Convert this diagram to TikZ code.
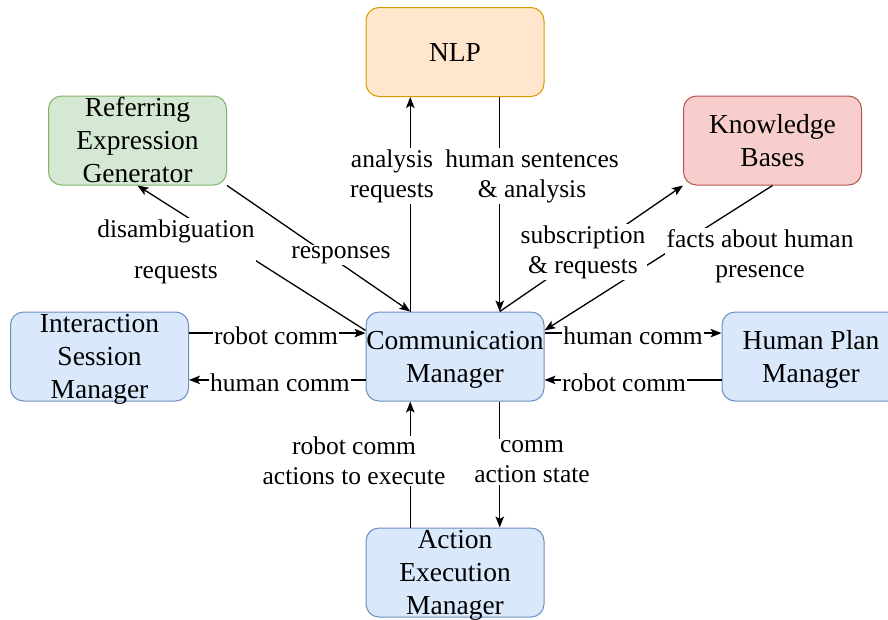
\documentclass[tikz,border=0pt]{standalone}
\usepackage{fontspec}
\setmainfont{Liberation Serif}
\usetikzlibrary{arrows.meta,calc}
\definecolor{nlpfill}{HTML}{FFE6CC}\definecolor{nlpline}{HTML}{D79B00}
\definecolor{regfill}{HTML}{D5E8D4}\definecolor{regline}{HTML}{82B366}
\definecolor{kbfill}{HTML}{F8CECC}\definecolor{kbline}{HTML}{B85450}
\definecolor{bluefill}{HTML}{DAE8FC}\definecolor{blueline}{HTML}{6C8EBF}
\newcommand{\mltext}[1]{\smash{\raisebox{-9pt}{\begin{tabular}{@{}c@{}}#1\end{tabular}}}}
\begin{document}
\begin{tikzpicture}[x=1pt,y=-1pt,
  box/.style={rounded corners=13pt, minimum width=178pt, minimum height=89pt, inner sep=0pt,
    line width=1pt, font=\fontsize{27.5}{33}\selectfont},
  nlpbox/.style={box, fill=nlpfill, draw=nlpline},
  regbox/.style={box, fill=regfill, draw=regline},
  kbbox/.style={box, fill=kbfill, draw=kbline},
  bluebox/.style={box, fill=bluefill, draw=blueline},
  conn/.style={line width=1.3pt, -{Stealth[length=11pt,width=8.5pt,inset=2.5pt]}},
  lbl/.style={fill=white, inner sep=1.5pt, align=center, font=\fontsize{25.5}{30}\selectfont}]
\clip (0,0) rectangle (888,619);
\fill[white] (0,0) rectangle (888,619);
% boxes
\node[nlpbox] (nlp) at (455,52) {\mltext{NLP}};
\node[regbox] (reg) at (137.5,140.5) {\mltext{Referring\\Expression\\Generator}};
\node[kbbox] (kb) at (772.5,140.5) {\mltext{Knowledge\\Bases}};
\node[bluebox] (ism) at (99.5,356.5) {\mltext{Interaction\\Session\\Manager}};
\node[bluebox] (cm) at (455,356.5) {\mltext{Communication\\Manager}};
\node[bluebox] (hpm) at (811,356.5) {\mltext{Human Plan\\Manager}};
\node[bluebox] (aem) at (455,572.5) {\mltext{Action\\Execution\\Manager}};
% connectors
\draw[conn] ($(cm.north west)!.25!(cm.north east)$) -- ($(nlp.south west)!.25!(nlp.south east)$);
\draw[conn] ($(nlp.south west)!.75!(nlp.south east)$) -- ($(cm.north west)!.75!(cm.north east)$);
\draw[conn] ($(cm.north west)!.21!(cm.south west)$) -- (reg.south);
\draw[conn] (reg.south east) -- ($(cm.north west)!.25!(cm.north east)$);
\draw[conn] ($(cm.north west)!.75!(cm.north east)$) -- (kb.south west);
\draw[conn] (kb.south) -- ($(cm.north east)!.21!(cm.south east)$);
\draw[conn] ($(ism.north east)!.24!(ism.south east)$) -- ($(cm.north west)!.24!(cm.south west)$);
\draw[conn] ($(cm.north west)!.76!(cm.south west)$) -- ($(ism.north east)!.76!(ism.south east)$);
\draw[conn] ($(cm.north east)!.24!(cm.south east)$) -- ($(hpm.north west)!.24!(hpm.south west)$);
\draw[conn] ($(hpm.north west)!.76!(hpm.south west)$) -- ($(cm.north east)!.76!(cm.south east)$);
\draw[conn] ($(aem.north west)!.25!(aem.north east)$) -- ($(cm.south west)!.25!(cm.south east)$);
\draw[conn] ($(cm.south west)!.75!(cm.south east)$) -- ($(aem.north west)!.75!(aem.north east)$);
% labels
\node[lbl] (l1) at (392,176) {analysis\\requests};
\node[lbl] (l2) at (532,176) {human sentences\\\& analysis};
\node[lbl] (l3) at (176,252) {disambiguation\\[11pt]requests};
\node[lbl] (l4) at (341,255) {responses};
\node[lbl] (l5) at (583,252) {subscription\\\& requests};
\node[lbl] (l6) at (760,256) {facts about human\\presence};
\node[lbl] (l7) at (276,336) {robot comm};
\node[lbl] (l8) at (280,383) {human comm};
\node[lbl] (l9) at (633,336) {human comm};
\node[lbl] (l10) at (624,383) {robot comm};
\node[lbl] (l11) at (354,461) {robot comm\\actions to execute};
\node[lbl] (l12) at (532,462) {comm\\action state};
\end{tikzpicture}
\end{document}
